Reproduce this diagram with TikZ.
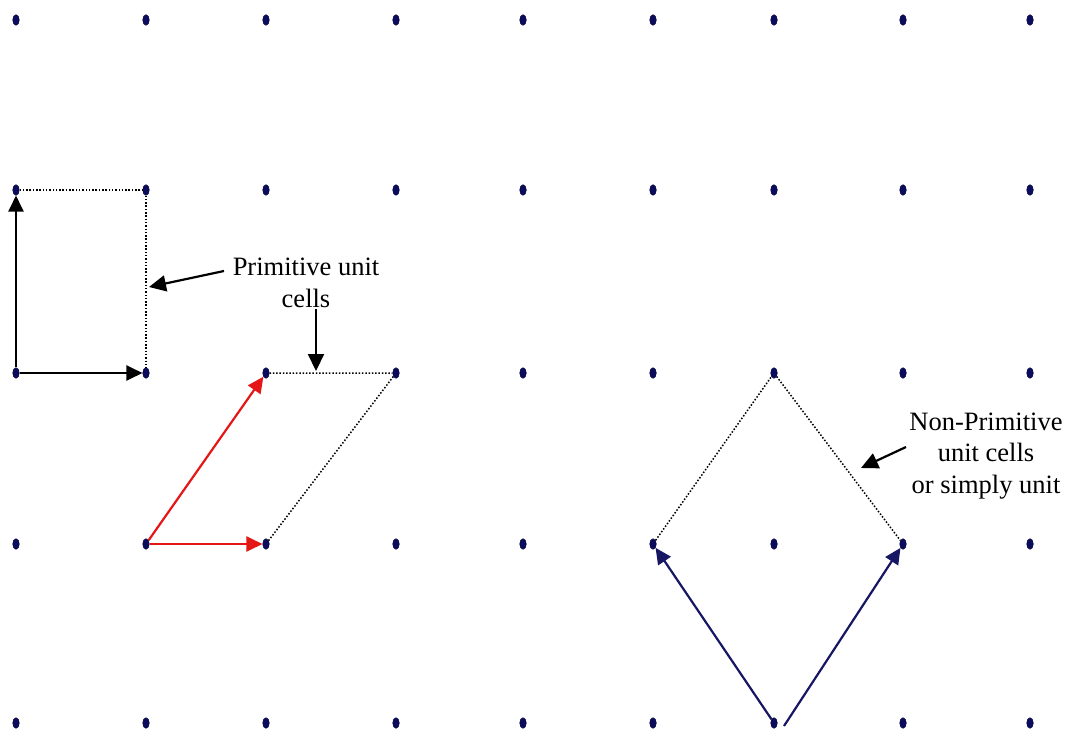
\documentclass[tikz,border=0pt]{standalone}
\usepackage{fontspec}
\setmainfont{Liberation Serif}
\usetikzlibrary{shapes.geometric,arrows.meta}
\definecolor{dotblue}{RGB}{12,12,95}
\definecolor{vecred}{RGB}{228,22,22}
\definecolor{vecblue}{RGB}{22,22,100}
\tikzset{
  latdot/.style={ellipse,fill=dotblue,draw=dotblue!70!black,line width=0.6pt,minimum width=6.5pt,minimum height=10.5pt,inner sep=0pt},
  vec/.style={line width=2.2pt,-{Triangle[length=16pt,width=15pt]}},
  cellline/.style={line width=1.5pt,dash pattern=on 1.5pt off 1.8pt},
  callout/.style={line width=2.2pt,-{Triangle[length=17pt,width=16pt]}},
  lbl/.style={align=center,font=\fontsize{26.5}{31.5}\selectfont,inner sep=0pt}
}
\begin{document}
\begin{tikzpicture}[x=1pt,y=-1pt]
\useasboundingbox (0,0) rectangle (1069,733);
\foreach \x [count=\i] in {16,146,266,396,523,653,774,903,1030}{
  \foreach \y [count=\j] in {20,190,373,544,723}{
    \node[latdot] (d-\i-\j) at (\x,\y) {};
  }
}
% primitive rectangular cell
\draw[cellline] (d-1-2) -- (d-2-2) -- (d-2-3);
\draw[vec,black] (d-1-3) -- (d-1-2);
\draw[vec,black] (d-1-3) -- (d-2-3);
% primitive oblique cell
\draw[cellline] (d-3-3) -- (d-4-3) -- (d-3-4);
\draw[vec,vecred] (d-2-4) -- (d-3-3);
\draw[vec,vecred] (d-2-4) -- (d-3-4);
% non-primitive cell
\draw[cellline] (d-6-4) -- (d-7-3) -- (d-8-4);
\draw[vec,vecblue] (d-7-5) -- (d-6-4);
\draw[vec,vecblue] ([xshift=10pt,yshift=-3pt]d-7-5.center) -- (d-8-4);
% labels
\node[lbl] (prim) at (306,283) {Primitive unit\\cells};
\node[lbl] (nonprim) at (986,456) {Non-Primitive\\unit cells\\or simply unit};
\coordinate (t1) at (149,287);
\coordinate (s1) at (224,271);
\coordinate (t2) at (316,371);
\coordinate (s2) at (316,309);
\coordinate (t3) at (861,468);
\coordinate (s3) at (906,447);
\draw[callout] (s1) -- (t1);
\draw[callout] (s2) -- (t2);
\draw[callout] (s3) -- (t3);
\end{tikzpicture}
\end{document}
